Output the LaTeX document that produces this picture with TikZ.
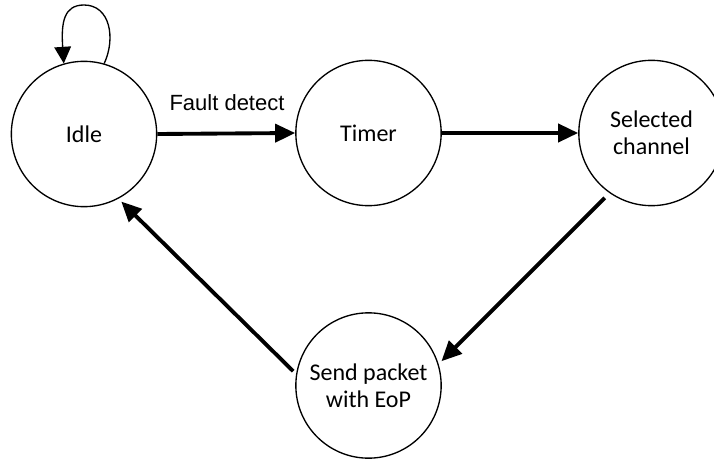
\documentclass[tikz,border=0pt]{standalone}
\usepackage{fontspec}
\setmainfont{Carlito}
\newfontfamily\labelfont{Liberation Sans}
\usetikzlibrary{arrows.meta}

\begin{document}
\begin{tikzpicture}[x=0.75pt,y=-0.75pt,
  state/.style={draw,circle,line width=1pt,minimum size=109pt,inner sep=0pt,
    align=center,font=\fontsize{18}{20.5}\selectfont},
  flow/.style={line width=2.9pt,-{Triangle[length=15pt,width=13.5pt]}},
  loopedge/.style={line width=1pt,-{Triangle[length=12.5pt,width=12.5pt]}},
  edgelabel/.style={font=\labelfont\fontsize{16.5}{19}\selectfont}]

\useasboundingbox (0,0) rectangle (714,460);

% states
\node[state] (idle)  at (84,134)    {Idle};
\node[state] (timer) at (368.5,133) {Timer};
\node[state] (sel)   at (651.5,133) {Selected\\channel};
\node[state] (send)  at (368.5,385.5) {Send packet\\with EoP};

% transitions
\draw[flow] (idle.east) -- (timer.west);
\node[edgelabel] (fault) at (227,103) {Fault detect};
\draw[flow] (timer.east) -- (sel.west);
\draw[flow,shorten <=5pt,shorten >=3pt] (sel.235) -- (send.17);
\draw[flow,shorten <=3pt,shorten >=3pt] (send.171) -- (idle.298);

% self-loop on the idle state
\coordinate (looptop) at (84,5);
\draw[loopedge] (idle.74) .. controls (116,38) and (110,5) .. (looptop)
  .. controls (64,5) and (61,22) .. (idle.106);
\end{tikzpicture}
\end{document}
